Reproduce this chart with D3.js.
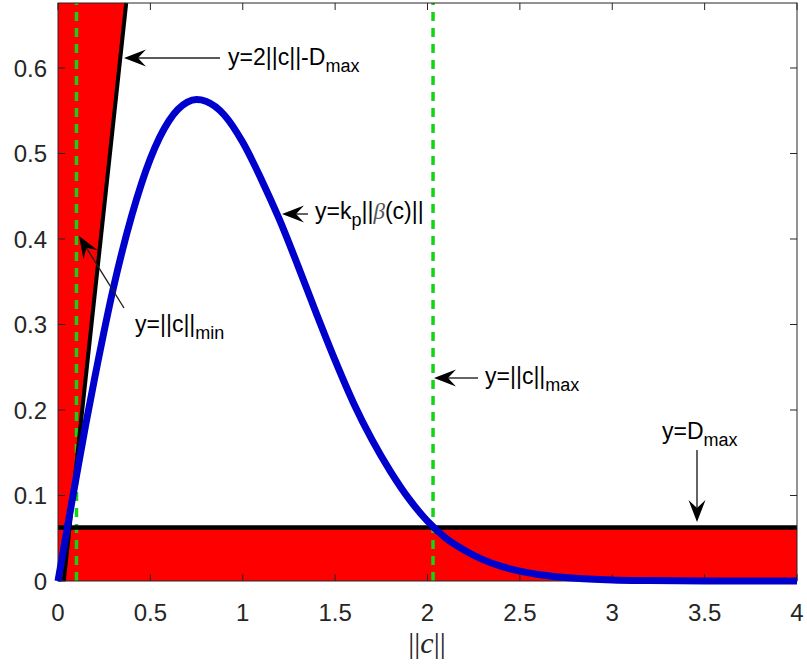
<!DOCTYPE html>
<html><head><meta charset="utf-8">
<script src="https://cdn.jsdelivr.net/npm/d3@7"></script>
<style>body{margin:0;background:#fff;} svg{display:block;}</style>
</head><body>
<svg id="chart" width="807" height="668"></svg>
<script>
// ---- data ----
const xTicks = [0, 0.5, 1, 1.5, 2, 2.5, 3, 3.5, 4];
const yTicks = [0, 0.1, 0.2, 0.3, 0.4, 0.5, 0.6];
const xDomain = [0, 4];
const yDomain = [0, 0.676];
const cNorm = [0,0.05,0.1,0.15,0.2,0.3,0.4,0.5,0.6,0.7,0.75,0.8,0.9,1.0,1.1,1.2,1.3,1.4,1.5,1.6,1.7,1.8,1.9,2.0,2.1,2.2,2.3,2.4,2.5,2.6,2.7,2.8,2.9,3.0,3.2,3.5,4.0];
const kpBeta = [0,0.062,0.123,0.183,0.239,0.343,0.428,0.494,0.538,0.560,0.563,0.561,0.545,0.513,0.470,0.422,0.368,0.312,0.258,0.208,0.165,0.128,0.096,0.070,0.050,0.036,0.025,0.017,0.0115,0.0076,0.005,0.0032,0.002,0.0012,0.0005,0.0001,0];
const D_MAX = 0.0625;
const C_MIN = 0.1;
const C_MAX = 2.03;

const svg = d3.select("#chart");
const x = d3.scaleLinear().domain(xDomain).range([58, 797]);
const y = d3.scaleLinear().domain(yDomain).range([581, 3]);
const axisColor = "#262626";
const tickFont = "'Liberation Sans', Arial, Helvetica, sans-serif";

// ---- red regions ----
const yTop = yDomain[1];
const leftPoly = [[0, 0], [0, yTop], [(yTop + D_MAX) / 2, yTop], [D_MAX / 2, 0]];
svg.append("path")
  .attr("d", d3.line().x(d => x(d[0])).y(d => y(d[1]))(leftPoly) + "Z")
  .attr("fill", "#ff0000").attr("stroke", "none");
svg.append("rect")
  .attr("x", x(0)).attr("y", y(D_MAX))
  .attr("width", x(4) - x(0)).attr("height", y(0) - y(D_MAX))
  .attr("fill", "#ff0000");

// ---- green dashed lines ----
[C_MIN, C_MAX].forEach(v => {
  svg.append("line")
    .attr("x1", x(v)).attr("x2", x(v)).attr("y1", y(0)).attr("y2", y(yTop))
    .attr("stroke", "#14d214").attr("stroke-width", 3.5)
    .attr("stroke-dasharray", "9,7");
});

// ---- black lines ----
svg.append("line")
  .attr("x1", x(0)).attr("x2", x(4)).attr("y1", y(D_MAX)).attr("y2", y(D_MAX))
  .attr("stroke", "#000").attr("stroke-width", 4.5);
svg.append("line")
  .attr("x1", x(D_MAX / 2)).attr("y1", y(0))
  .attr("x2", x((yTop + D_MAX) / 2)).attr("y2", y(yTop))
  .attr("stroke", "#000").attr("stroke-width", 4);

// ---- axes box and ticks ----
const g = svg.append("g");
g.append("rect").attr("x", x(0)).attr("y", y(yTop))
  .attr("width", x(4) - x(0)).attr("height", y(0) - y(yTop))
  .attr("fill", "none").attr("stroke", axisColor).attr("stroke-width", 1);
const tl = 7;
xTicks.forEach(t => {
  g.append("line").attr("x1", x(t)).attr("x2", x(t)).attr("y1", y(0)).attr("y2", y(0) - tl).attr("stroke", axisColor);
  g.append("line").attr("x1", x(t)).attr("x2", x(t)).attr("y1", y(yTop)).attr("y2", y(yTop) + tl).attr("stroke", axisColor);
  g.append("text").attr("x", x(t)).attr("y", 621).attr("text-anchor", "middle")
    .attr("font-family", tickFont).attr("font-size", 24).attr("fill", axisColor).text(d3.format("~g")(t));
});
yTicks.forEach(t => {
  g.append("line").attr("x1", x(0)).attr("x2", x(0) + tl).attr("y1", y(t)).attr("y2", y(t)).attr("stroke", axisColor);
  g.append("line").attr("x1", x(4)).attr("x2", x(4) - tl).attr("y1", y(t)).attr("y2", y(t)).attr("stroke", axisColor);
  g.append("text").attr("x", 47).attr("y", y(t)).attr("dy", "0.36em").attr("text-anchor", "end")
    .attr("font-family", tickFont).attr("font-size", 24).attr("fill", axisColor).text(d3.format("~g")(t));
});

// ---- blue curve ----
svg.append("path")
  .datum(cNorm.map((c, i) => [c, kpBeta[i]]))
  .attr("d", d3.line().x(d => x(d[0])).y(d => y(d[1])).curve(d3.curveMonotoneX))
  .attr("fill", "none").attr("stroke", "#0000cd").attr("stroke-width", 7)
  .attr("stroke-linejoin", "round");

// ---- x label ----
const xl = svg.append("text").attr("x", 427).attr("y", 653).attr("text-anchor", "middle")
  .attr("font-family", "'Liberation Serif', 'DejaVu Serif', serif").attr("font-size", 30).attr("fill", axisColor);
xl.append("tspan").text("||");
xl.append("tspan").attr("font-style", "italic").text("c");
xl.append("tspan").text("||");

// ---- annotations ----
function arrow(x1, y1, x2, y2) {
  const L = 22, W = 8.5, N = 14;
  const a = Math.atan2(y2 - y1, x2 - x1);
  const ca = Math.cos(a), sa = Math.sin(a);
  const pt = (u, v) => [x2 + u * ca - v * sa, y2 + u * sa + v * ca];
  const notch = pt(-N, 0);
  svg.append("line").attr("x1", x1).attr("y1", y1).attr("x2", notch[0]).attr("y2", notch[1])
    .attr("stroke", "#222").attr("stroke-width", 1.4);
  const pts = [pt(0, 0), pt(-L, W), notch, pt(-L, -W)];
  svg.append("path").attr("d", "M" + pts.map(p => p.join(",")).join("L") + "Z").attr("fill", "#000");
}
function label(xp, yp, parts) {
  const t = svg.append("text").attr("x", xp).attr("y", yp)
    .attr("font-family", tickFont).attr("font-size", 23).attr("fill", "#000");
  parts.forEach(p => {
    const s = t.append("tspan").text(p.t);
    if (p.sub) s.attr("font-size", 18).attr("dy", 7);
    if (p.up) s.attr("dy", -7);
    if (p.it) s.attr("font-style", "italic").attr("font-family", "'Liberation Serif', serif").attr("fill", "#555");
  });
}
arrow(220, 58, 124, 58);
label(228, 65, [{t: "y=2||c||-D"}, {t: "max", sub: true}]);
arrow(308, 214, 282, 214);
label(315, 219, [{t: "y=k"}, {t: "p", sub: true}, {t: "||", up: true}, {t: "β", it: true}, {t: "(c)||"}]);
arrow(124, 308, 79, 236);
label(135, 332, [{t: "y=||c||"}, {t: "min", sub: true}]);
arrow(478, 378, 434, 378);
label(485, 384, [{t: "y=||c||"}, {t: "max", sub: true}]);
arrow(697, 450, 697, 522);
label(662, 439, [{t: "y=D"}, {t: "max", sub: true}]);
</script>
</body></html>
